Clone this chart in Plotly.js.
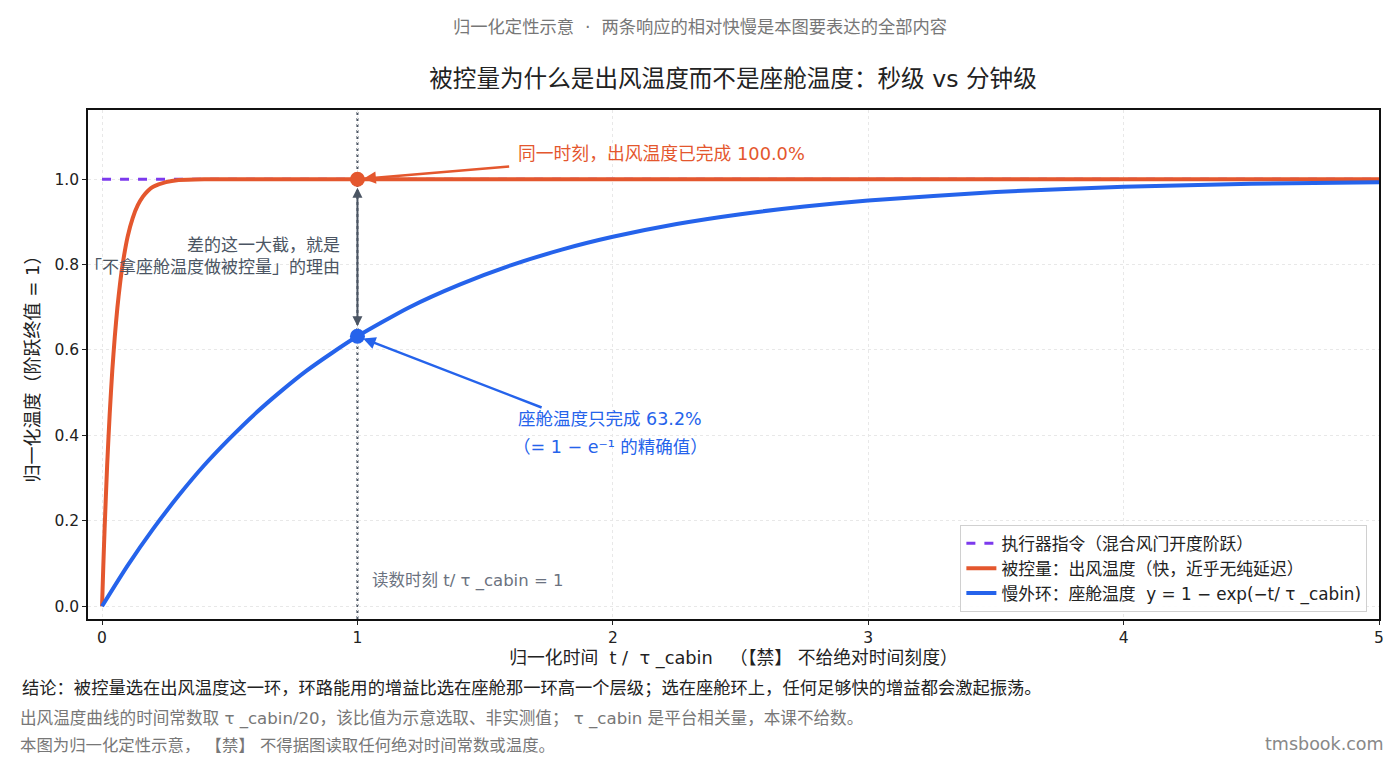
<!DOCTYPE html>
<html>
<head>
<meta charset="utf-8">
<script src="https://cdn.plot.ly/plotly-3.0.1.min.js"></script>
<style>
  html, body { margin: 0; padding: 0; background: #fff; }
  #plot { width: 1400px; height: 760px; }
</style>
</head>
<body>
<div id="plot"></div>
<script>
// normalized step responses
const cmdT = [0, 5];
const cmdY = [1, 1];

const fastT = [0, 0.005, 0.01, 0.02, 0.03, 0.04, 0.05, 0.06, 0.07, 0.08, 0.1, 0.12, 0.14, 0.16, 0.18, 0.2, 0.25, 0.3, 0.4, 0.6, 1, 2, 3, 4, 5];
const fastY = [0, 0.095, 0.181, 0.330, 0.451, 0.551, 0.632, 0.699, 0.753, 0.798, 0.865, 0.909, 0.939, 0.959, 0.973, 0.982, 0.993, 0.998, 1.0, 1.0, 1.0, 1.0, 1.0, 1.0, 1.0];

const slowT = [0, 0.1, 0.2, 0.3, 0.4, 0.5, 0.6, 0.7, 0.8, 0.9, 1.0, 1.2, 1.4, 1.6, 1.8, 2.0, 2.25, 2.5, 2.75, 3.0, 3.5, 4.0, 4.5, 5.0];
const slowY = [0, 0.095, 0.181, 0.259, 0.330, 0.393, 0.451, 0.503, 0.551, 0.593, 0.632, 0.699, 0.753, 0.798, 0.835, 0.865, 0.895, 0.918, 0.936, 0.950, 0.970, 0.982, 0.989, 0.993];

const readT = 1;
const fastAtRead = 1.0;
const slowAtRead = 0.632;

const xTicks = [0, 1, 2, 3, 4, 5];
const yTicks = [0, 0.2, 0.4, 0.6, 0.8, 1.0];
const yTickText = ['0.0', '0.2', '0.4', '0.6', '0.8', '1.0'];

const names = [
  '执行器指令（混合风门开度阶跃）',
  '被控量：出风温度（快，近乎无纯延迟）',
  '慢外环：座舱温度  y = 1 − exp(−t/ τ _cabin)'
];

const ORANGE = '#e4572e';
const BLUE = '#2563eb';
const PURPLE = '#7c3aed';
const GREYD = '#4b5563';
const FONT = '"DejaVu Sans", "Noto Sans CJK SC", sans-serif';

// plot box in page pixels
const L = 88, R = 21, T = 110, B = 141, W = 1400, H = 760;
const pw = W - L - R, ph = H - T - B;
const px = v => (v - L) / pw;          // page x -> paper x
const py = v => (H - B - v) / ph;      // page y -> paper y

const data = [
  {
    x: cmdT, y: cmdY, type: 'scatter', mode: 'lines', name: names[0],
    line: { color: PURPLE, width: 3, dash: 'dash' }
  },
  {
    x: fastT, y: fastY, type: 'scatter', mode: 'lines', name: names[1],
    line: { color: ORANGE, width: 4, shape: 'spline', smoothing: 0.6 }
  },
  {
    x: slowT, y: slowY, type: 'scatter', mode: 'lines', name: names[2],
    line: { color: BLUE, width: 4, shape: 'spline', smoothing: 0.6 }
  },
  {
    x: [readT], y: [fastAtRead], type: 'scatter', mode: 'markers', showlegend: false,
    marker: { color: ORANGE, size: 15 }, hoverinfo: 'skip'
  },
  {
    x: [readT], y: [slowAtRead], type: 'scatter', mode: 'markers', showlegend: false,
    marker: { color: BLUE, size: 15 }, hoverinfo: 'skip'
  }
];

const layout = {
  width: W, height: H,
  paper_bgcolor: '#fff', plot_bgcolor: '#fff',
  font: { family: FONT, size: 15, color: '#222' },
  margin: { l: L, r: R, t: T, b: B },
  title: {
    text: '被控量为什么是出风温度而不是座舱温度：秒级 vs 分钟级',
    font: { size: 23.6, color: '#222' },
    xref: 'container', yref: 'container',
    x: 733 / W, xanchor: 'center', y: 1 - 79 / H, yanchor: 'middle'
  },
  xaxis: {
    range: [-0.055, 5], tickvals: xTicks, ticktext: xTicks.map(String),
    ticks: 'outside', ticklen: 4, tickcolor: '#222',
    showline: true, linecolor: '#111', linewidth: 1.5, mirror: true,
    showgrid: true, gridcolor: '#e8e8e8', griddash: 'dot', zeroline: false,
    tickfont: { size: 15.5 },
    title: { text: '归一化时间  t /  τ _cabin   （【禁】 不给绝对时间刻度）', font: { size: 17.8, color: '#222' }, standoff: 4 }
  },
  yaxis: {
    range: [-0.03, 1.162], tickvals: yTicks, ticktext: yTickText,
    ticks: 'outside', ticklen: 4, tickcolor: '#222',
    showline: true, linecolor: '#111', linewidth: 1.5, mirror: true,
    showgrid: true, gridcolor: '#e8e8e8', griddash: 'dot', zeroline: false,
    tickfont: { size: 15.5 },
    title: { text: '归一化温度（阶跃终值 = 1）', font: { size: 18, color: '#222' }, standoff: 10 }
  },
  legend: {
    x: 0.991, y: 0.014, xanchor: 'right', yanchor: 'bottom',
    bgcolor: 'rgba(255,255,255,0.9)', bordercolor: '#d0d0d0', borderwidth: 1,
    font: { size: 16.8, color: '#222' }, tracegroupgap: 4
  },
  shapes: [
    {
      type: 'line', xref: 'x', yref: 'paper', x0: readT, x1: readT, y0: 0, y1: 1,
      line: { color: GREYD, width: 2, dash: 'dot' }, layer: 'below'
    }
  ],
  annotations: [
    // vertical double arrow between the two readings
    {
      x: readT, y: fastAtRead - 0.02, ax: readT, ay: slowAtRead + 0.02,
      xref: 'x', yref: 'y', axref: 'x', ayref: 'y',
      showarrow: true, arrowhead: 2, arrowside: 'end+start', arrowsize: 1,
      arrowwidth: 2, arrowcolor: GREYD, text: ''
    },
    // orange callout
    {
      x: readT, y: fastAtRead, ax: 1.6, ay: 1.03,
      xref: 'x', yref: 'y', axref: 'x', ayref: 'y',
      showarrow: true, arrowhead: 2, arrowsize: 1, arrowwidth: 2.5,
      arrowcolor: ORANGE, standoff: 6, text: ''
    },
    {
      x: 1.62, y: 1.061, xref: 'x', yref: 'y', showarrow: false,
      xanchor: 'left', yanchor: 'middle',
      text: '同一时刻，出风温度已完成 100.0%', font: { size: 17.8, color: ORANGE }
    },
    // blue callout
    {
      x: readT, y: slowAtRead, ax: 1.727, ay: 0.464,
      xref: 'x', yref: 'y', axref: 'x', ayref: 'y',
      showarrow: true, arrowhead: 2, arrowsize: 1, arrowwidth: 2.5,
      arrowcolor: BLUE, standoff: 6, text: ''
    },
    {
      x: 1.99, y: 0.438, xref: 'x', yref: 'y', showarrow: false,
      xanchor: 'center', yanchor: 'middle',
      text: '座舱温度只完成 63.2%', font: { size: 17.5, color: BLUE }
    },
    {
      x: 1.99, y: 0.372, xref: 'x', yref: 'y', showarrow: false,
      xanchor: 'center', yanchor: 'middle',
      text: '（= 1 − e⁻¹ 的精确值）', font: { size: 17.5, color: BLUE }
    },
    // gap explanation
    {
      x: 0.94, y: 0.82, xref: 'x', yref: 'y', showarrow: false,
      xanchor: 'right', yanchor: 'middle', align: 'right',
      text: '差的这一大截，就是<br>「不拿座舱温度做被控量」的理由',
      font: { size: 17, color: '#4b5563' }
    },
    {
      x: 1.05, y: 0.059, xref: 'x', yref: 'y', showarrow: false,
      xanchor: 'left', yanchor: 'middle',
      text: '读数时刻 t/ τ _cabin = 1', font: { size: 16.5, color: '#6b7280' }
    },
    // subtitle
    {
      x: px(700), y: py(27), xref: 'paper', yref: 'paper', showarrow: false,
      xanchor: 'center', yanchor: 'middle',
      text: '归一化定性示意  ·  两条响应的相对快慢是本图要表达的全部内容',
      font: { size: 17.3, color: '#777' }
    },
    // footnotes
    {
      x: px(20), y: py(688), xref: 'paper', yref: 'paper', showarrow: false,
      xanchor: 'left', yanchor: 'middle',
      text: '结论：被控量选在出风温度这一环，环路能用的增益比选在座舱那一环高一个层级；选在座舱环上，任何足够快的增益都会激起振荡。',
      font: { size: 17.3, color: '#222' }
    },
    {
      x: px(18), y: py(719), xref: 'paper', yref: 'paper', showarrow: false,
      xanchor: 'left', yanchor: 'middle',
      text: '出风温度曲线的时间常数取 τ _cabin/20，该比值为示意选取、非实测值； τ _cabin 是平台相关量，本课不给数。',
      font: { size: 16.6, color: '#777' }
    },
    {
      x: px(18), y: py(745), xref: 'paper', yref: 'paper', showarrow: false,
      xanchor: 'left', yanchor: 'middle',
      text: '本图为归一化定性示意， 【禁】 不得据图读取任何绝对时间常数或温度。',
      font: { size: 16.4, color: '#777' }
    },
    {
      x: px(1386), y: py(744), xref: 'paper', yref: 'paper', showarrow: false,
      xanchor: 'right', yanchor: 'middle',
      text: 'tmsbook.com', font: { size: 17.5, color: '#888' }
    }
  ]
};

Plotly.newPlot('plot', data, layout, { displayModeBar: false });
</script>
</body>
</html>
